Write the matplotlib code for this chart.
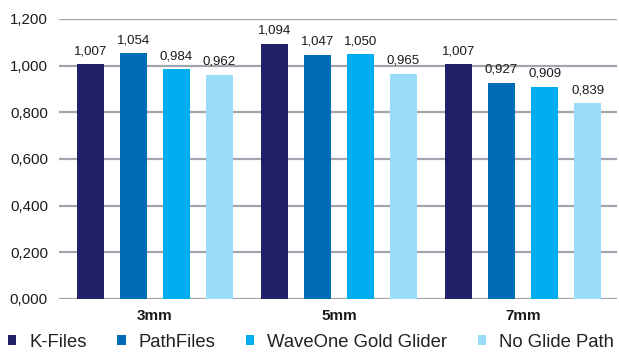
import matplotlib
matplotlib.use("Agg")
import matplotlib.pyplot as plt
import numpy as np
from matplotlib.patches import Patch

plt.rcParams['font.family'] = ['Liberation Sans', 'DejaVu Sans']

categories = ["3mm", "5mm", "7mm"]
series_names = ["K-Files", "PathFiles", "WaveOne Gold Glider", "No Glide Path"]
k_files = [1.007, 1.094, 1.007]
path_files = [1.054, 1.047, 0.927]
waveone = [0.984, 1.050, 0.909]
no_glide = [0.962, 0.965, 0.839]
yticks = [0.0, 0.2, 0.4, 0.6, 0.8, 1.0, 1.2]

series = [k_files, path_files, waveone, no_glide]
colors = ["#231f68", "#006bb6", "#00aeef", "#99ddf8"]

def fmt(v):
    return f"{v:.3f}".replace(".", ",")

fig = plt.figure(figsize=(6.19, 3.53), dpi=100)
ax = fig.add_axes([59/619, 1-299/353, 558/619, 280/353])

x = np.arange(len(categories))
step = 0.234
width = 0.147
for i, (vals, c) in enumerate(zip(series, colors)):
    pos = x + (i - 1.5) * step
    ax.bar(pos, vals, width=width, color=c, zorder=3, label=series_names[i])
    for p, v in zip(pos, vals):
        ax.annotate(fmt(v), (p, v), xytext=(0, 5), textcoords='offset points',
                    ha='center', va='bottom', fontsize=9.5, color='#1a1a1a')

ax.set_xlim(-0.52, 2.51)
ax.set_ylim(0, 1.2)
ax.set_yticks(yticks)
ax.set_yticklabels([fmt(t) for t in yticks], fontsize=10.8, color='#1a1a1a')
ax.set_xticks(x)
ax.set_xticklabels(categories, fontsize=11, fontweight='bold', color='#1a1a1a')
ax.tick_params(axis='both', length=0)
ax.tick_params(axis='x', pad=7)
ax.tick_params(axis='y', pad=8)
ax.grid(axis='y', color='#a2a5ad', linewidth=1.6, zorder=0)
for s in ax.spines.values():
    s.set_visible(False)
ax.set_axisbelow(True)

handles = [Patch(facecolor=c, edgecolor='none') for c in colors]
fig.legend(handles, series_names, loc='lower left', bbox_to_anchor=(8/619, 2/353), ncol=4,
           frameon=False, fontsize=13.3, handlelength=0.45, handleheight=0.45,
           handletextpad=0.7, columnspacing=1.65, borderaxespad=0.0, borderpad=0.0,
           labelcolor='#222222')

fig.savefig("out.png", dpi=100)
